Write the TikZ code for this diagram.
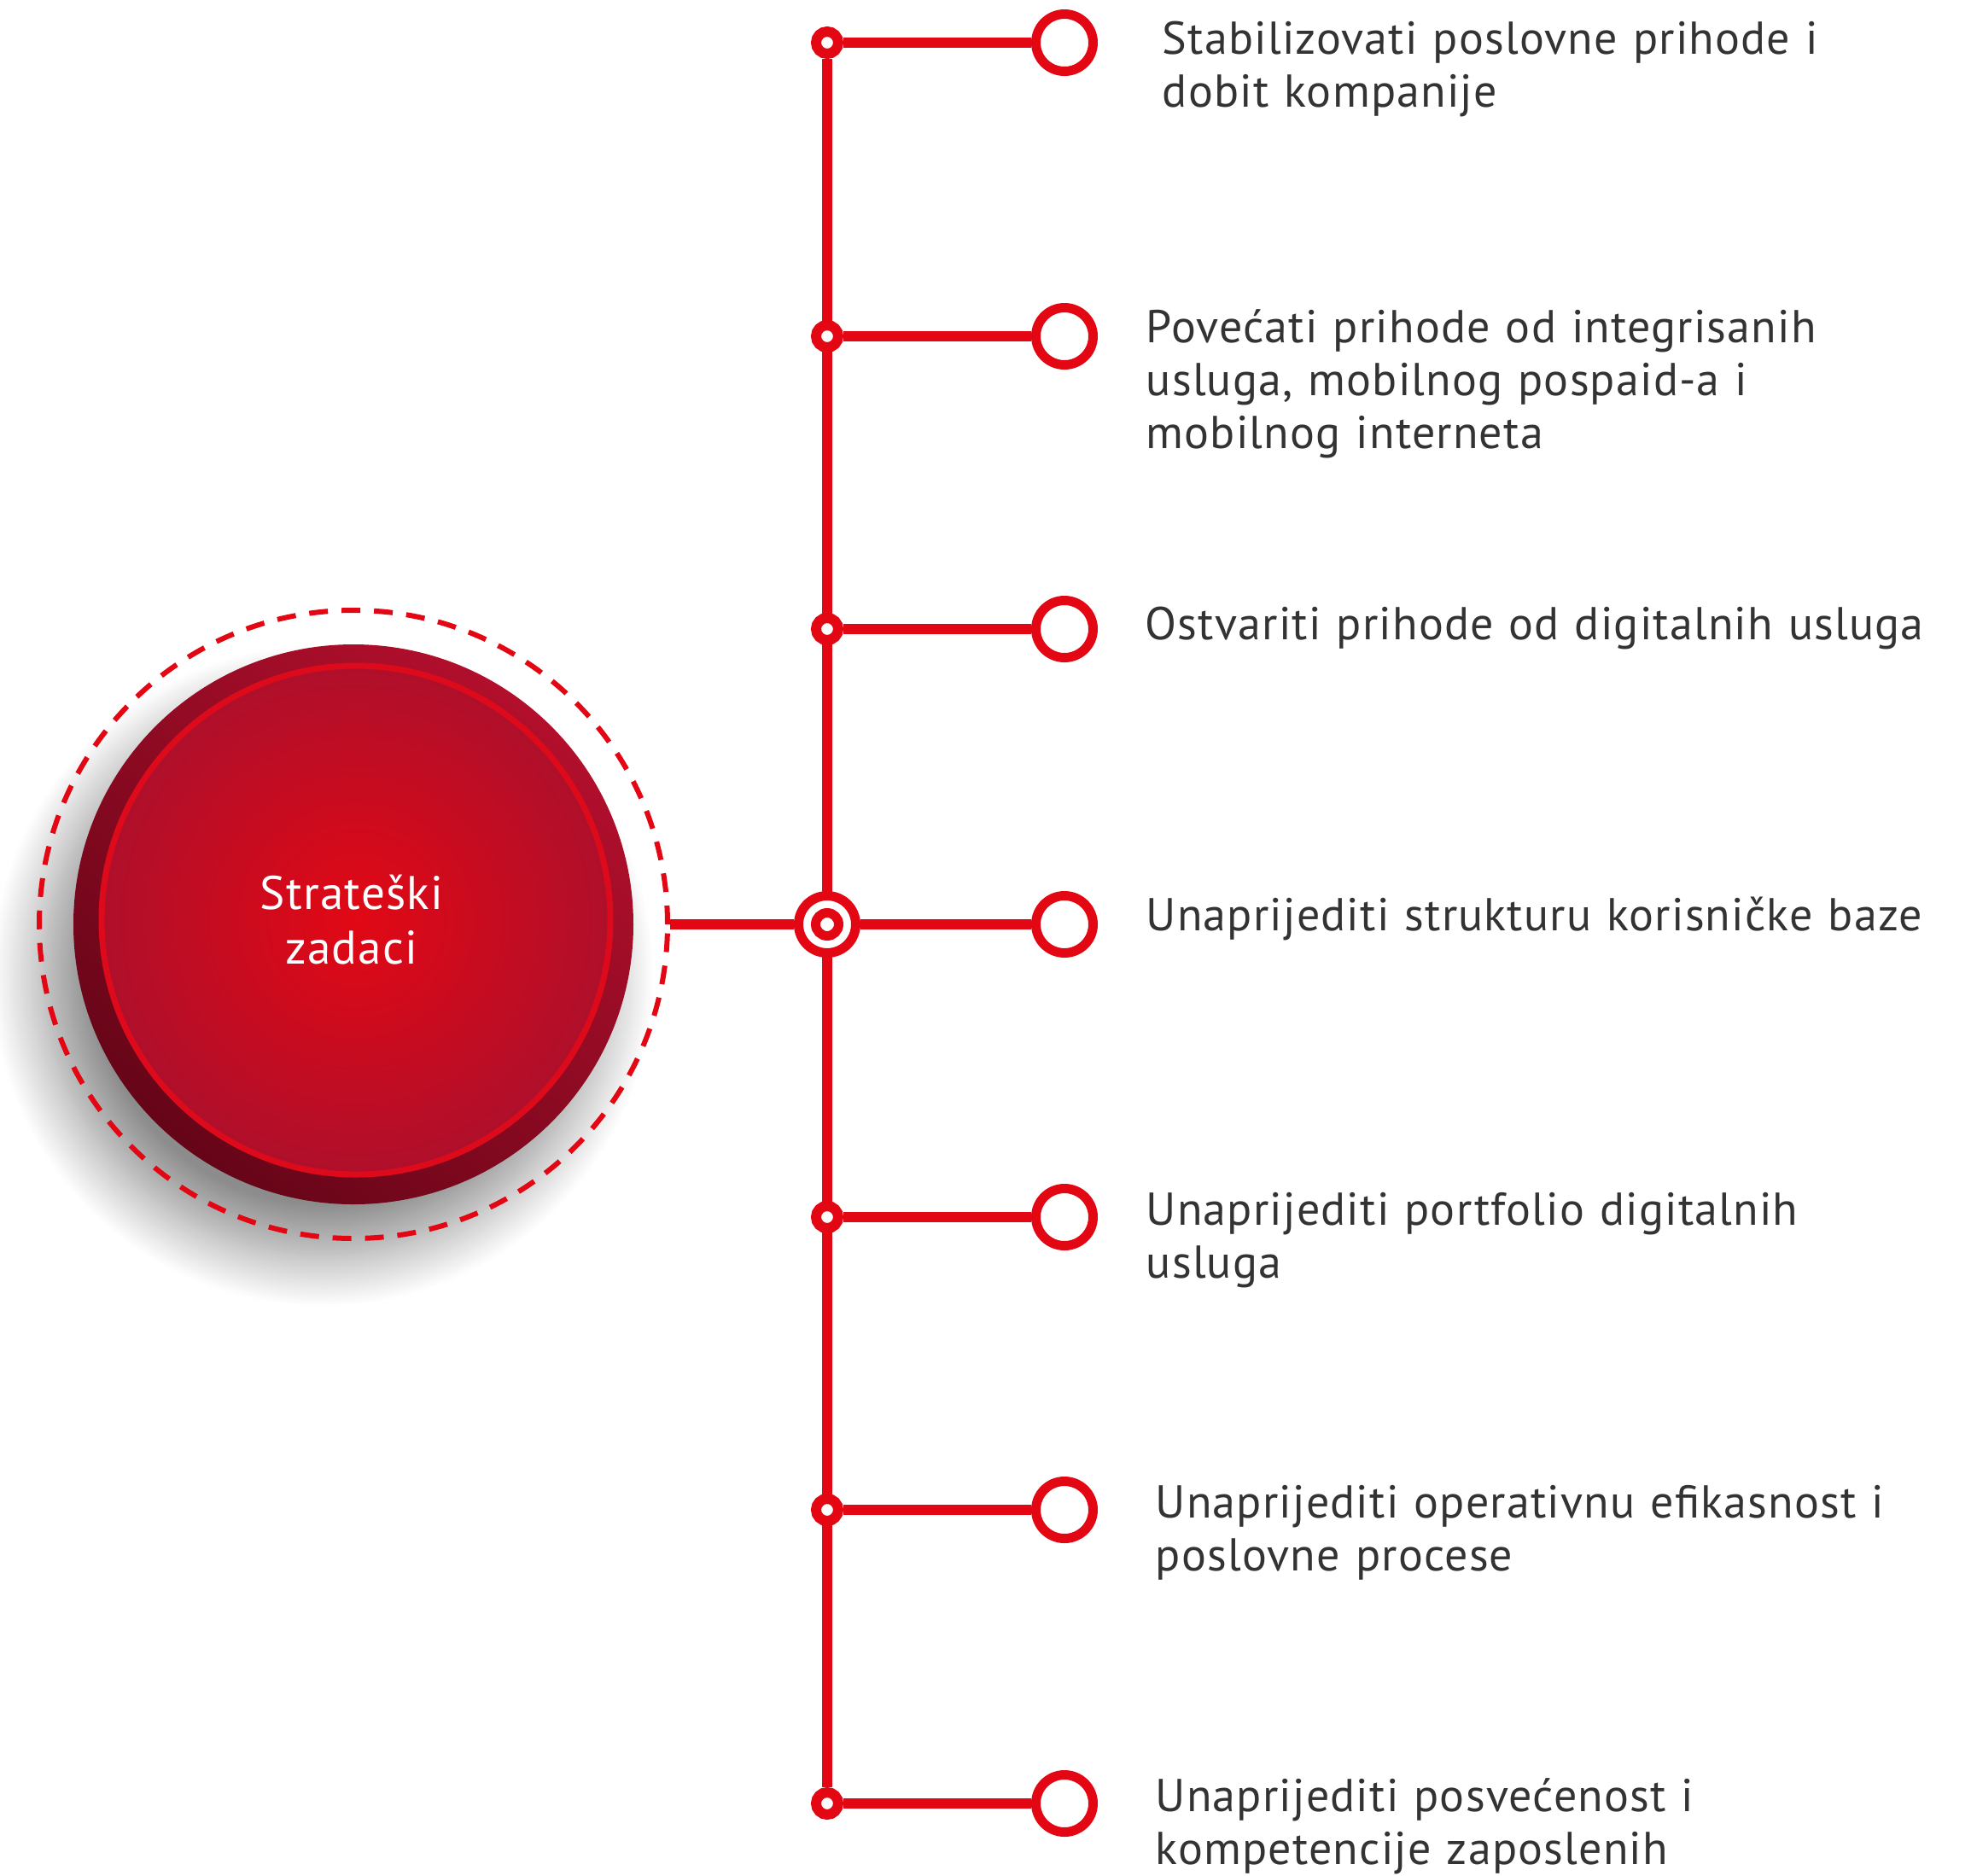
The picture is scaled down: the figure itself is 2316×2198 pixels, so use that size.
\documentclass[tikz,border=0pt]{standalone}
\usepackage{fontspec}
\setmainfont[LetterSpace=2.2]{PT Sans}
\usetikzlibrary{shadows.blur,backgrounds}

\definecolor{linered}{HTML}{E30613}
\definecolor{inkgray}{HTML}{333333}
\definecolor{facehi}{HTML}{E20814}
\definecolor{facelo}{HTML}{AF0F2B}
\definecolor{facerim}{HTML}{DD0A1B}
\definecolor{rimhi}{HTML}{B20F2C}
\definecolor{rimlo}{HTML}{660518}

\tikzset{
  link/.style={linered, line width=3pt},
  dot/.style={circle, draw=linered, fill=white, line width=3pt, minimum size=6.5pt, inner sep=0pt},
  ring/.style={circle, draw=linered, fill=white, line width=2.75pt, minimum size=16.75pt, inner sep=0pt},
  goal/.style={anchor=base west, inner sep=0pt, text width=240pt, align=left, text=inkgray,
    font=\fontsize{13.5}{15.6}\selectfont},
}

\begin{document}
\begin{tikzpicture}[x=0.25pt, y=-0.25pt]
    \useasboundingbox (0,0) rectangle (2316,2198);
    % the big button
    \node[circle, minimum size=164pt, inner sep=0pt, top color=rimhi, middle color=rimhi,
      bottom color=rimlo, shading angle=-40,
      blur shadow={shadow xshift=-9pt, shadow yshift=-15pt, shadow blur radius=15pt,
        shadow blur steps=40, shadow opacity=45}]
      (main) at (414,1083) {};
    \node[circle, minimum size=149pt, inner sep=0pt, inner color=facehi, outer color=facelo,
      draw=facerim, line width=1.75pt] (face) at (417,1078) {};
    \node[circle, minimum size=184pt, inner sep=0pt, draw=linered, line width=1.5pt,
      dash pattern=on 5.5pt off 4pt] (halo) at (414,1083) {};
    \node[anchor=base, inner sep=0pt, text width=120pt, align=center, text=white,
      font=\fontsize{13.8}{16}\selectfont] (title) at (412,1065) {Strateški\\zadaci};
    % hub and branches
    \node[ring] (hub) at (969,1083) {};
    \node[circle, draw=linered, fill=white, line width=2.75pt, minimum size=6.75pt, inner sep=0pt] (core) at (969,1083) {};
    \foreach \i/\y in {1/50,2/394,3/737,5/1426,6/1769,7/2113} {
      \node[dot] (d\i) at (969,\y) {};
      \node[ring] (r\i) at (1247,\y) {};
    }
    \node[ring] (r4) at (1247,1083) {};
    \begin{scope}[on background layer]
      \draw[link] (d1) -- (d7);
      \foreach \i in {1,2,3,5,6,7} \draw[link] (d\i) -- (r\i);
      \draw[link] (hub) -- (r4);
      \draw[link] (halo) -- (hub);
    \end{scope}
    % goals
    \node[goal] (t1) at (1361,63) {Stabilizovati poslovne prihode i\\dobit kompanije};
    \node[goal] (t2) at (1342,401) {Povećati prihode od integrisanih\\usluga, mobilnog pospaid-a i\\mobilnog interneta};
    \node[goal] (t3) at (1341,749) {Ostvariti prihode od digitalnih usluga};
    \node[goal] (t4) at (1342,1090) {Unaprijediti strukturu korisničke baze};
    \node[goal] (t5) at (1342,1435) {Unaprijediti portfolio digitalnih\\usluga};
    \node[goal] (t6) at (1353,1778) {Unaprijediti operativnu efikasnost i\\poslovne procese};
    \node[goal] (t7) at (1353,2122) {Unaprijediti posvećenost i\\kompetencije zaposlenih};
\end{tikzpicture}
\end{document}
